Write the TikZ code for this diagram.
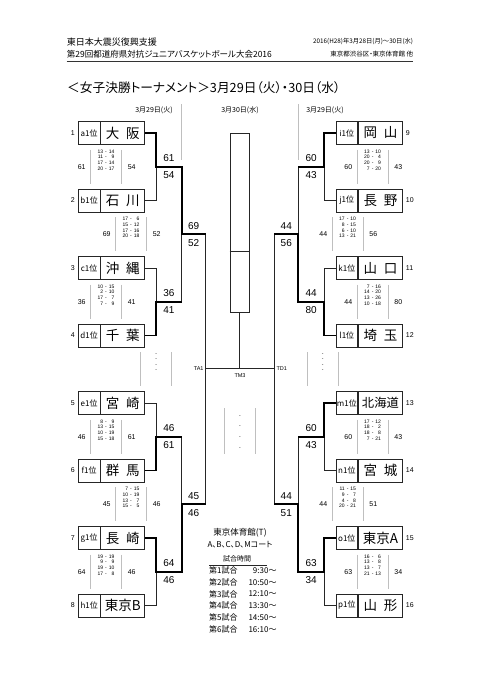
\documentclass[tikz,border=0pt]{standalone}
\usepackage{fontspec}
\setmainfont{Liberation Sans}
\newfontfamily\jp{Noto Sans CJK JP}
\newfontfamily\jpp[RawFeature=+palt]{Noto Sans CJK JP}
\usetikzlibrary{calc}

\newcommand{\tgap}{\hspace{0.5em}}
\newcommand{\qtr}[8]{\begin{tabular}{@{}r@{\hspace{2pt}-\hspace{2pt}}r@{}}#1&#2\\#3&#4\\[0.4pt]#5&#6\\#7&#8\end{tabular}}

\begin{document}
\begin{tikzpicture}[x=1pt, y=-1pt,
    lab/.style={draw=black!85, line width=0.7pt, minimum width=21.7pt, minimum height=22.7pt, inner sep=0pt, font=\jp\fontsize{8}{8}\selectfont},
    nam/.style={draw=black!85, line width=0.7pt, minimum width=44pt, minimum height=22.7pt, inner sep=0pt, font=\jp\fontsize{13.5}{13.5}\selectfont},
    seed/.style={font=\fontsize{7}{7}\selectfont, inner sep=0pt},
    sc/.style={font=\fontsize{10}{10}\selectfont, inner sep=0pt},
    tot/.style={font=\fontsize{7}{7}\selectfont, inner sep=0pt},
    qs/.style={font=\fontsize{5}{5.5}\selectfont, inner sep=0pt},
    tag/.style={font=\fontsize{5.5}{5.5}\selectfont, inner sep=0pt},
    qline/.style={black!25, line width=0.6pt},
    loser/.style={black!85, line width=0.7pt},
    win/.style={black, line width=1.8pt},
    jtxt/.style={font=\jp\fontsize{#1}{#1}\selectfont, inner sep=0pt},
    ptxt/.style={font=\jpp\fontsize{#1}{#1}\selectfont, inner sep=0pt}]
    \useasboundingbox[fill=white] (0,0) rectangle (481,680);

    % header
    \node[jtxt=9, anchor=west] (h1) at (66.7,41.7) {東日本大震災復興支援};
    \node[ptxt=8.5, anchor=west] (h2) at (66.7,53.8) {第29回都道府県対抗ジュニアバスケットボール大会2016};
    \node[ptxt=6.3, anchor=east] (h3) at (413.3,41.7) {2016(H28)年3月28日(月)～30日(水)};
    \node[ptxt=6.5, anchor=east] (h4) at (413.3,53.8) {東京都渋谷区・東京体育館 他};
    \draw[line width=1pt, black!80] (66.7,61) -- (413.3,61);
    \node[ptxt=12.7, anchor=west] (title) at (67,87.5) {＜女子決勝トーナメント＞3月29日（火）・30日（水）};

    \node[ptxt=7] (d1) at (154,110.5) {3月29日(火)};
    \node[ptxt=7] (d2) at (240,110.5) {3月30日(水)};
    \node[ptxt=7] (d3) at (325,110.5) {3月29日(火)};
    \draw[qline] (181.7,104) -- (181.7,160);
    \draw[qline] (298.3,104) -- (298.3,160);

    % teams
    \foreach \i/\l/\n in {1/a/大\tgap 阪, 2/b/石\tgap 川, 3/c/沖\tgap 縄, 4/d/千\tgap 葉,
                           5/e/宮\tgap 崎, 6/f/群\tgap 馬, 7/g/長\tgap 崎, 8/h/東京B} {
        \node[lab] (L\i) at (89.15,{133+67.5*(\i-1)}) {\l1位};
        \node[nam, anchor=west] (N\i) at (L\i.east) {\n};
        \node[seed, anchor=east] (S\i) at ([xshift=-3pt]L\i.west) {\i};
    }
    \foreach \i/\l/\n in {9/i/岡\tgap 山, 10/j/長\tgap 野, 11/k/山\tgap 口, 12/l/埼\tgap 玉,
                           13/m/{\fontsize{12.3}{12.3}\selectfont 北海道}, 14/n/宮\tgap 城, 15/o/東京A, 16/p/山\tgap 形} {
        \node[lab] (L\i) at (346.85,{133+67.5*(\i-9)}) {\l1位};
        \node[nam, anchor=west] (N\i) at (L\i.east) {\n};
        \node[seed, anchor=west] (S\i) at ([xshift=3pt]N\i.east) {\i};
    }

    % final box
    \node[draw=black!85, line width=0.7pt, minimum width=19.3pt, minimum height=179.4pt, inner sep=0pt] (fin) at (239.65,223) {};
    \coordinate (fmid) at (240,251);
    \draw[loser] (fin.west |- fmid) -- (fin.east |- fmid);

    % joints
    \coordinate (J1) at (156,166.75);
    \coordinate (J2) at (156,301.75);
    \coordinate (J3) at (156,436.75);
    \coordinate (J4) at (156,571.75);
    \coordinate (K1) at (181.7,234.25);
    \coordinate (K2) at (181.7,504.25);
    \coordinate (TA1) at (205.7,368.5);
    \coordinate (J5) at (324,166.75);
    \coordinate (J6) at (324,301.75);
    \coordinate (J7) at (324,436.75);
    \coordinate (J8) at (324,571.75);
    \coordinate (K3) at (298.3,234.25);
    \coordinate (K4) at (298.3,504.25);
    \coordinate (TD1) at (274.3,368.5);

    % bracket, thin
    \draw[loser] (N2.east) -| (J1);
    \draw[loser] (N3.east) -| (J2);
    \draw[loser] (N5.east) -| (J3);
    \draw[loser] (N8.east) -| (J4);
    \draw[loser] (J2 -| K1) -- (K1);
    \draw[loser] (J3 -| K2) -- (K2);
    \draw[loser] (L10.west) -| (J5);
    \draw[loser] (L11.west) -| (J6);
    \draw[loser] (L14.west) -| (J7);
    \draw[loser] (L16.west) -| (J8);
    \draw[loser] (J5 -| K3) -- (K3);
    \draw[loser] (J7 -| K4) -- (K4);
    \draw[loser] (K1 -| TA1) -- (K2 -| TA1);
    \draw[loser] (K3 -| TD1) -- (K4 -| TD1);
    \draw[loser] (TA1) -- (TD1);
    \draw[loser] (fin.south) -- (fin.south |- TA1);

    % bracket, winners
    \draw[win] (N1.east) -| (J1) -- (J1 -| K1) -- (K1) -- (K1 -| TA1);
    \draw[win] (N4.east) -| (J2) -- (J2 -| K1);
    \draw[win] (N6.east) -| (J3) -- (J3 -| K2);
    \draw[win] (N7.east) -| (J4) -- (J4 -| K2) -- (K2) -- (K2 -| TA1);
    \draw[win] (L9.west) -| (J5) -- (J5 -| K3);
    \draw[win] (L12.west) -| (J6) -- (J6 -| K3) -- (K3) -- (K3 -| TD1);
    \draw[win] (L13.west) -| (J7) -- (J7 -| K4);
    \draw[win] (L15.west) -| (J8) -- (J8 -| K4) -- (K4) -- (K4 -| TD1);

    \node[tag, anchor=east] (tA) at ([xshift=-2pt]TA1) {TA1};
    \node[tag, anchor=west] (tD) at ([xshift=2pt]TD1) {TD1};
    \node[tag] (tM) at (240,375.5) {TM3};

    % scores on the bracket
    \foreach \k/\x/\y/\a/\b in {1/168.85/166.75/61/54, 2/168.85/301.75/36/41, 3/168.85/436.75/46/61, 4/168.85/571.75/64/46,
                                5/193.7/234.25/69/52, 6/193.7/504.25/45/46,
                                7/311.15/166.75/60/43, 8/311.15/301.75/44/80, 9/311.15/436.75/60/43, 10/311.15/571.75/63/34,
                                11/286.3/234.25/44/56, 12/286.3/504.25/44/51} {
        \node[sc] (up\k) at (\x,{\y-8.4}) {\a};
        \node[sc] (dn\k) at (\x,{\y+8.4}) {\b};
    }

    % quarter scores
    \foreach \k/\x/\y/\a/\b/\q in {1/81.7/166.75/61/54/{\qtr{13}{14}{11}{9}{17}{14}{20}{17}},
                                   2/106.7/234.25/69/52/{\qtr{17}{6}{15}{12}{17}{16}{20}{18}},
                                   3/81.7/301.75/36/41/{\qtr{10}{15}{2}{10}{17}{7}{7}{9}},
                                   4/81.7/436.75/46/61/{\qtr{8}{9}{13}{15}{10}{19}{15}{18}},
                                   5/106.7/504.25/45/46/{\qtr{7}{15}{10}{19}{13}{7}{15}{5}},
                                   6/81.7/571.75/64/46/{\qtr{19}{19}{9}{9}{19}{10}{17}{8}},
                                   7/348.3/166.75/60/43/{\qtr{13}{10}{20}{4}{20}{9}{7}{20}},
                                   8/323.3/234.25/44/56/{\qtr{17}{10}{8}{15}{6}{10}{13}{21}},
                                   9/348.3/301.75/44/80/{\qtr{7}{16}{14}{20}{13}{26}{10}{18}},
                                   10/348.3/436.75/60/43/{\qtr{17}{12}{18}{2}{18}{8}{7}{21}},
                                   11/323.3/504.25/44/51/{\qtr{11}{15}{9}{7}{4}{8}{20}{21}},
                                   12/348.3/571.75/63/34/{\qtr{16}{6}{13}{8}{13}{7}{21}{13}}} {
        \node[tot] (ta\k) at (\x,\y) {\a};
        \node[tot] (tb\k) at ({\x+50},\y) {\b};
        \node[qs] (qs\k) at ({\x+24.3},{\y-6}) {\q};
        \draw[qline] ({\x+9},{\y-17}) -- ({\x+9},{\y+17});
        \draw[qline] ({\x+40},{\y-17}) -- ({\x+40},{\y+17});
    }

    % games still to play
    \foreach \k/\x in {1/131.7, 2/298.3} {
        \node[qs] (ds\k) at ({\x+24.5},362.5) {\begin{tabular}{@{}c@{}}-\\-\\-\\-\end{tabular}};
        \draw[qline] ({\x+9},352) -- ({\x+9},386);
        \draw[qline] ({\x+40},352) -- ({\x+40},386);
    }
    \node[font=\fontsize{5}{10.7}\selectfont, inner sep=0pt] (ds3) at (240,431) {\begin{tabular}{@{}c@{}}-\\-\\-\\-\end{tabular}};
    \draw[qline] (224.3,408.3) -- (224.3,454);
    \draw[qline] (255.3,408.3) -- (255.3,454);

    % venue and times
    \node[ptxt=8.5] (venue) at (240,533) {東京体育館(T)};
    \node[ptxt=8] (court) at (240,544.5) {A、B、C、D、Mコート};
    \node[jtxt=7] (sched) at (237,559) {試合時間};
    \draw[loser] (209,565.5) -- (267,565.5);
    \foreach \k/\t in {1/9:30～, 2/10:50～, 3/12:10～, 4/13:30～, 5/14:50～, 6/16:10～} {
        \node[jtxt=8, anchor=west] (g\k) at (209,{559+11.7*\k}) {第\k 試合};
        \node[jtxt=8, anchor=east] (tm\k) at (276.7,{559+11.7*\k}) {\t};
    }
\end{tikzpicture}
\end{document}
